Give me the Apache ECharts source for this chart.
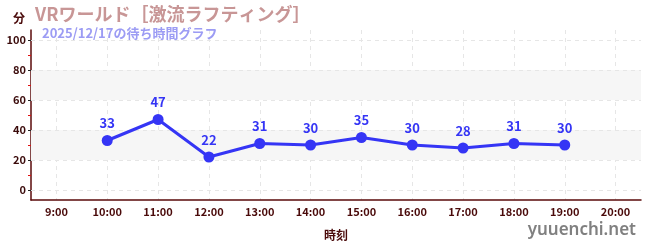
<!DOCTYPE html>
<html><head><meta charset="utf-8">
<script src="https://cdn.jsdelivr.net/npm/echarts@6/dist/echarts.min.js"></script>
<style>html,body{margin:0;padding:0;background:#fff}#c{width:650px;height:250px}</style>
</head><body><div id="c"></div>
<script>
const categories = ['9:00','10:00','11:00','12:00','13:00','14:00','15:00','16:00','17:00','18:00','19:00','20:00'];
const waitValues = [null,33,47,22,31,30,35,30,28,31,30,null];
const yTicks = [0,20,40,60,80,100];
const yMinorTicks = [10,30,50,70,90];
const bands = [[20,40],[60,80]];
const titleText = 'VRワールド［激流ラフティング］';
const subText = '2025/12/17の待ち時間グラフ';

const FONT = '"Noto Sans CJK JP","Noto Sans",sans-serif';
const chart = echarts.init(document.getElementById('c'));
const yMin = -20/3, yMax = 320/3;
chart.setOption({
  animation: false,
  textStyle: {fontFamily: FONT},
  title: [
    {text: '分', left: 8, top: 7, textStyle: {fontSize: 12, fontWeight: 'bold', color: '#4a0a0a', fontFamily: FONT}},
    {text: titleText, left: 30, top: 0, textStyle: {fontSize: 18, fontWeight: 'bold', color: '#c89696', fontFamily: FONT}},
    {text: subText, left: 37, top: 22, textStyle: {fontSize: 13, fontWeight: 'bold', color: '#9c9cf4', fontFamily: FONT}}
  ],
  graphic: [{type: 'text', right: 14, top: 222, style: {text: 'yuuenchi.net', font: '600 17px "Noto Sans", sans-serif', fill: '#808080'}}],
  grid: {left: 31, right: 9, top: 30, bottom: 50},
  xAxis: {
    type: 'category', data: categories, boundaryGap: true,
    name: '時刻', nameLocation: 'middle', nameGap: 29,
    nameTextStyle: {fontSize: 12, fontWeight: 'bold', color: '#4a0a0a'},
    axisLine: {onZero: false, lineStyle: {color: '#5a0a0a', width: 1.5}},
    axisTick: {alignWithLabel: true, inside: true, length: 4, lineStyle: {color: '#555'}},
    axisLabel: {fontSize: 11, fontWeight: 'bold', color: '#4a0a0a', margin: 6},
    splitLine: {show: true, alignWithLabel: true, lineStyle: {color: '#e6e6e6', type: [4,4]}}
  },
  yAxis: [{
    type: 'value', min: yMin, max: yMax,
    axisLine: {show: true, lineStyle: {color: '#5a0a0a', width: 1.5}},
    axisTick: {show: true, length: 3, customValues: yTicks, lineStyle: {color: '#222'}},
    axisLabel: {fontSize: 11, fontWeight: 'bold', color: '#3a0a0a', margin: 5, customValues: yTicks},
    splitLine: {show: false}
  }, {
    type: 'value', min: yMin, max: yMax, position: 'left',
    axisLine: {show: false},
    axisTick: {show: true, length: 3, customValues: yMinorTicks, lineStyle: {color: '#e01010'}},
    axisLabel: {show: false, customValues: yMinorTicks},
    splitLine: {show: false}
  }],
  series: [{
    type: 'line', data: waitValues, yAxisIndex: 0,
    symbol: 'circle', symbolSize: 11,
    lineStyle: {width: 3, color: '#3535f5'},
    itemStyle: {color: '#3535f5'},
    label: {show: true, position: 'top', distance: 5, fontSize: 13, fontWeight: 'bold', color: '#3535f5'},
    markArea: {silent: true, itemStyle: {color: '#f6f6f6'}, data: bands.map(b => [{yAxis: b[0]}, {yAxis: b[1]}])},
    markLine: {silent: true, symbol: 'none', label: {show: false}, lineStyle: {color: '#e6e6e6', type: [4,4], width: 1}, data: yTicks.map(v => ({yAxis: v}))},
    z: 5
  }]
});
</script></body></html>
